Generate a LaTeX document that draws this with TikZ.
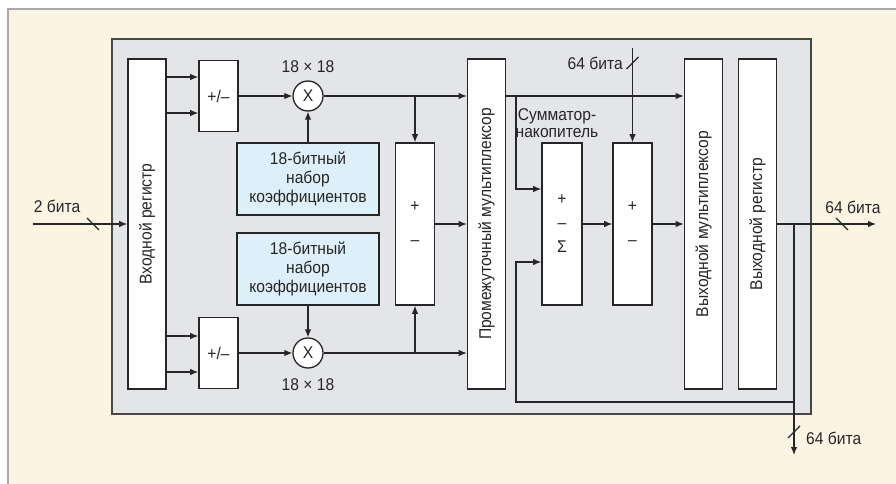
\documentclass[tikz,border=0pt]{standalone}
\usepackage{fontspec}
\setmainfont{Liberation Sans}[FakeStretch=0.92]
\definecolor{dspbeige}{RGB}{252,244,227}
\definecolor{dspgrey}{RGB}{228,229,232}
\definecolor{dspframe}{RGB}{168,168,168}
\definecolor{dspdark}{RGB}{38,38,38}
\definecolor{dspblue}{RGB}{221,240,249}
\usetikzlibrary{arrows.meta, positioning}
\newcommand{\dspfont}{\fontsize{17}{19}\selectfont}
\tikzset{
  blk/.style={rectangle, draw=dspdark, line width=1.6pt, fill=white,
              inner sep=0pt, font=\dspfont, text=dspdark, align=center},
  tallblk/.style={blk, minimum width=38pt, minimum height=330pt},
  midblk/.style={blk, minimum width=39pt, minimum height=162pt},
  pmblk/.style={blk, minimum width=39pt, minimum height=71pt},
  coefblk/.style={blk, fill=dspblue, minimum width=142pt, minimum height=72pt},
  mult/.style={circle, draw=dspdark, line width=1.3pt, fill=white,
               minimum size=30pt, inner sep=0pt, font=\dspfont, text=dspdark},
  arrow/.style={-{Latex[length=8pt,width=6.5pt]}, line width=1.1pt, draw=dspdark},
  wire/.style={line width=1.1pt, draw=dspdark},
  lbl/.style={font=\dspfont, text=dspdark, inner sep=0pt, align=center},
  hbus/.pic={\draw[wire] (-6,-6) -- (6,6);},
  vbus/.pic={\draw[wire] (-6,6) -- (6,-6);},
}

\begin{document}
\begin{tikzpicture}[x=1pt, y=-1pt]
  \useasboundingbox (0,0) rectangle (896,484);
  \fill[white] (0,0) rectangle (896,484);
  \fill[dspbeige] (8,9) rectangle (896,484);
  \draw[dspframe, line width=1.5pt] (8,484) -- (8,9) -- (896,9);
  \draw[fill=dspgrey, draw=dspdark!85, line width=1.4pt] (112,39) rectangle (811,414);

  \node[tallblk] (inreg) at (147,224) {\rotatebox{90}{Входной регистр}};
  \node[pmblk] (pmtop) at (218.5,96) {+/–};
  \node[pmblk] (pmbot) at (218.5,353) {+/–};
  \node[mult] (multop) at (308,96) {X};
  \node[mult] (mulbot) at (308,353) {X};
  \node[lbl, above=7pt of multop] (sztop) {18 × 18};
  \node[lbl, below=10pt of mulbot] (szbot) {18 × 18};
  \node[coefblk] (coeftop) at (308,179) {18-битный\\набор\\коэффициентов};
  \node[coefblk] (coefbot) at (308,269) {18-битный\\набор\\коэффициентов};
  \node[midblk] (addsub) at (415,224) {+\\[15pt]–};
  \node[tallblk] (imux) at (486.5,224) {\rotatebox{90}{Промежуточный мультиплексор}};
  \node[midblk, minimum width=40pt] (acc) at (562,224) {+\\[5pt]–\\[5pt]Σ};
  \node[lbl, font=\fontsize{17}{17}\selectfont] (acclbl) at (557,123) {Сумматор-\\накопитель};
  \node[midblk] (addout) at (632.5,224) {+\\[15pt]–};
  \node[tallblk] (omux) at (703.5,224) {\rotatebox{90}{Выходной мультиплексор}};
  \node[tallblk] (oreg) at (757.5,224) {\rotatebox{90}{Выходной регистр}};

  \coordinate (inp) at (33,224);
  \coordinate (outp) at (876,224);
  \coordinate (tap) at (794,224);
  \coordinate (down) at (794,455);
  \coordinate (topin) at (632.5,48);
  \coordinate (split) at (516,96);
  \coordinate (fb) at (516,402);

  % inputs
  \draw[arrow] (inp) -- (inreg.west);
  \pic at (93,224) {hbus};
  \node[lbl] (inlbl) at (57,206) {2 бита};
  \draw[arrow] (inreg.east |- 0,77) -- (pmtop.west |- 0,77);
  \draw[arrow] (inreg.east |- 0,113) -- (pmtop.west |- 0,113);
  \draw[arrow] (inreg.east |- 0,336) -- (pmbot.west |- 0,336);
  \draw[arrow] (inreg.east |- 0,372) -- (pmbot.west |- 0,372);

  % multipliers
  \draw[arrow] (pmtop.east) -- (multop.west);
  \draw[arrow] (pmbot.east) -- (mulbot.west);
  \draw[arrow] (coeftop.north) -- (multop.south);
  \draw[arrow] (coefbot.south) -- (mulbot.north);
  \draw[arrow] (multop.east) -- (imux.west |- multop);
  \draw[arrow] (addsub.north |- multop) -- (addsub.north);
  \draw[arrow] (mulbot.east) -- (imux.west |- mulbot);
  \draw[arrow] (addsub.south |- mulbot) -- (addsub.south);
  \draw[arrow] (addsub.east) -- (imux.west |- addsub.east);

  % accumulator and output
  \draw[arrow] (imux.east |- split) -- (omux.west |- split);
  \draw[arrow] (split) -- (split |- 0,189) -- (acc.west |- 0,189);
  \draw[arrow] (fb -| tap) -- (fb) -- (fb |- 0,262) -- (acc.west |- 0,262);
  \draw[arrow] (acc.east) -- (addout.west);
  \draw[arrow] (addout.east) -- (omux.west |- addout.east);
  \draw[arrow] (topin) -- (addout.north);
  \pic at (632.5,63) {vbus};
  \node[lbl, anchor=east] (toplbl) at (623,63) {64 бита};
  \draw[arrow] (oreg.east) -- (outp);
  \pic at (842,224) {hbus};
  \node[lbl] (outlbl) at (853,207) {64 бита};
  \draw[arrow] (tap) -- (down);
  \pic at (794,432) {vbus};
  \node[lbl, anchor=west] (downlbl) at (806,438) {64 бита};
\end{tikzpicture}
\end{document}
